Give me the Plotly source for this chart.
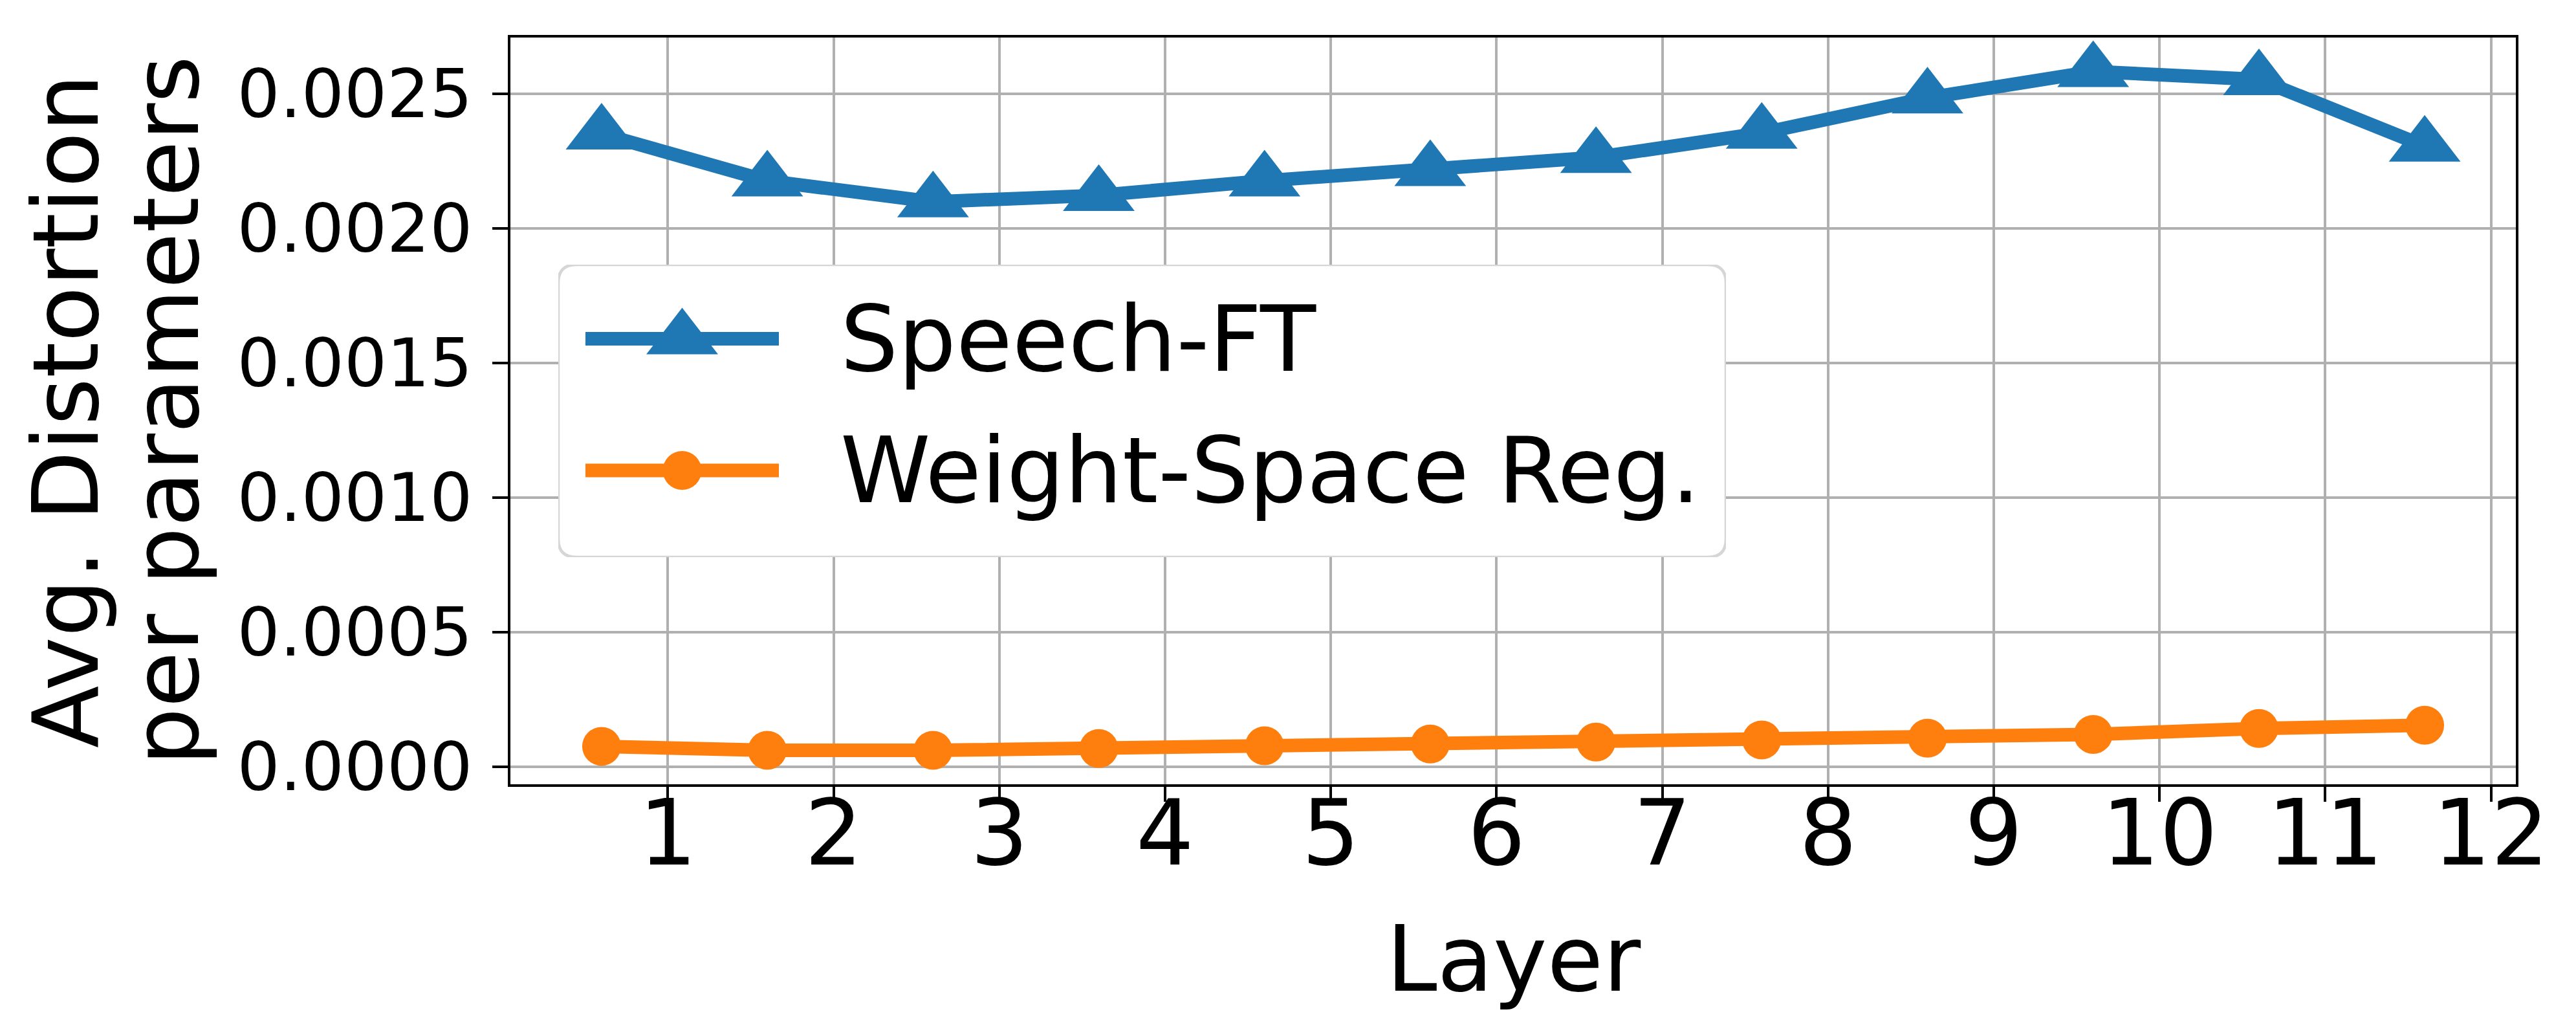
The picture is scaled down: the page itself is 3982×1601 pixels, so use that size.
import plotly.graph_objects as go

# data
layers = [1, 2, 3, 4, 5, 6, 7, 8, 9, 10, 11, 12]
speech_ft = [0.002350, 0.002176, 0.002098, 0.002122, 0.002176, 0.002214,
             0.002263, 0.002353, 0.002484, 0.002582, 0.002552, 0.002305]
weight_space_reg = [0.0000759, 0.0000611, 0.0000611, 0.0000679, 0.0000779, 0.0000847,
                    0.0000919, 0.0000995, 0.0001063, 0.0001203, 0.0001423, 0.0001543]
series_names = ['Speech-FT', 'Weight-Space Reg.']
y_ticks = [0.0, 0.0005, 0.0010, 0.0015, 0.0020, 0.0025]

W, H = 3982, 1601
L, R, T, B = 781, 3881, 50, 1204  # plot area in pixels
FONT = 'DejaVu Sans'
BLUE, ORANGE = '#1f77b4', '#ff7f0e'
LW = 21


def px_x(p):
    return (p - L) / (R - L)


def px_y(p):
    return (B - p) / (B - T)


# points sit 0.4 to the left of each layer tick
x_pos = [l - 0.4 for l in layers]
x_lo, x_hi = min(x_pos), max(x_pos)
x_pad = 0.05 * (x_hi - x_lo)
all_y = speech_ft + weight_space_reg
y_lo, y_hi = min(all_y), max(all_y)
y_pad = 0.05 * (y_hi - y_lo)

styles = [
    dict(color=BLUE, symbol='triangle-up', size=96),
    dict(color=ORANGE, symbol='circle', size=60),
]

fig = go.Figure()
for name, vals, st in zip(series_names, [speech_ft, weight_space_reg], styles):
    fig.add_trace(go.Scatter(
        x=x_pos, y=vals, name=name, mode='lines+markers',
        line=dict(color=st['color'], width=LW),
        marker=dict(color=st['color'], symbol=st['symbol'], size=st['size'], opacity=1),
        showlegend=False, cliponaxis=False))

# hand-made legend (plotly's own legend caps glyph sizes)
box_l, box_r, box_t, box_b = 855, 2660, 401, 853
bw, bh = box_r - box_l, box_b - box_t
row_y = [bh - 114.5, bh - 318]
for name, st, ry in zip(series_names, styles, row_y):
    fig.add_trace(go.Scatter(
        x=[42, 341], y=[ry, ry], mode='lines',
        line=dict(color=st['color'], width=LW),
        xaxis='x2', yaxis='y2', showlegend=False, hoverinfo='skip'))
    fig.add_trace(go.Scatter(
        x=[191.5], y=[ry], mode='markers',
        marker=dict(color=st['color'], symbol=st['symbol'], size=st['size'], opacity=1),
        xaxis='x2', yaxis='y2', showlegend=False, hoverinfo='skip'))
    fig.add_annotation(x=434, y=ry, xref='x2', yref='y2', text=name, showarrow=False,
                       xanchor='left', yanchor='middle',
                       font=dict(family=FONT, size=141, color='black'))

r = 28
box_path = (f'M {r},0 L {bw - r},0 Q {bw},0 {bw},{r} L {bw},{bh - r} Q {bw},{bh} {bw - r},{bh} '
            f'L {r},{bh} Q 0,{bh} 0,{bh - r} L 0,{r} Q 0,0 {r},0 Z')
fig.add_shape(type='path', path=box_path, xref='x2', yref='y2', layer='between',
              fillcolor='rgba(255,255,255,0.8)', line=dict(color='#d6d6d6', width=4.5))

# y title, two lines
for txt, cx in [('Avg. Distortion', 94), ('per parameters', 249)]:
    fig.add_annotation(x=px_x(cx), y=0.5, xref='paper', yref='paper', text=txt,
                       textangle=-90, showarrow=False, xanchor='center', yanchor='middle',
                       font=dict(family=FONT, size=141, color='black'))

fig.add_annotation(x=0.5, y=px_y(1474), xref='paper', yref='paper', text='Layer',
                   showarrow=False, xanchor='center', yanchor='middle',
                   font=dict(family=FONT, size=141, color='black'))

axis_common = dict(showline=True, mirror=True, linecolor='black', linewidth=3.5,
                   showgrid=True, gridcolor='#b0b0b0', gridwidth=3.8, zeroline=False,
                   ticks='outside', tickcolor='black', tickwidth=3.5)

fig.update_layout(
    width=W, height=H,
    margin=dict(l=L, r=W - R, t=T, b=H - B, autoexpand=False),
    paper_bgcolor='white', plot_bgcolor='white',
    font=dict(family=FONT, color='black'),
    xaxis=dict(range=[x_lo - x_pad, x_hi + x_pad], tickvals=layers, ticklen=23,
               tickfont=dict(family=FONT, size=141), ticklabelstandoff=-72, **axis_common),
    yaxis=dict(range=[y_lo - y_pad, y_hi + y_pad], tickvals=y_ticks, tickformat='.4f',
               ticklen=24, tickfont=dict(family=FONT, size=104), ticklabelstandoff=10,
               **axis_common),
    xaxis2=dict(domain=[px_x(box_l), px_x(box_r)], range=[0, bw], visible=False,
                anchor='y2', fixedrange=True),
    yaxis2=dict(domain=[px_y(box_b), px_y(box_t)], range=[0, bh], visible=False,
                anchor='x2', fixedrange=True),
)

fig.write_html("out.html")
